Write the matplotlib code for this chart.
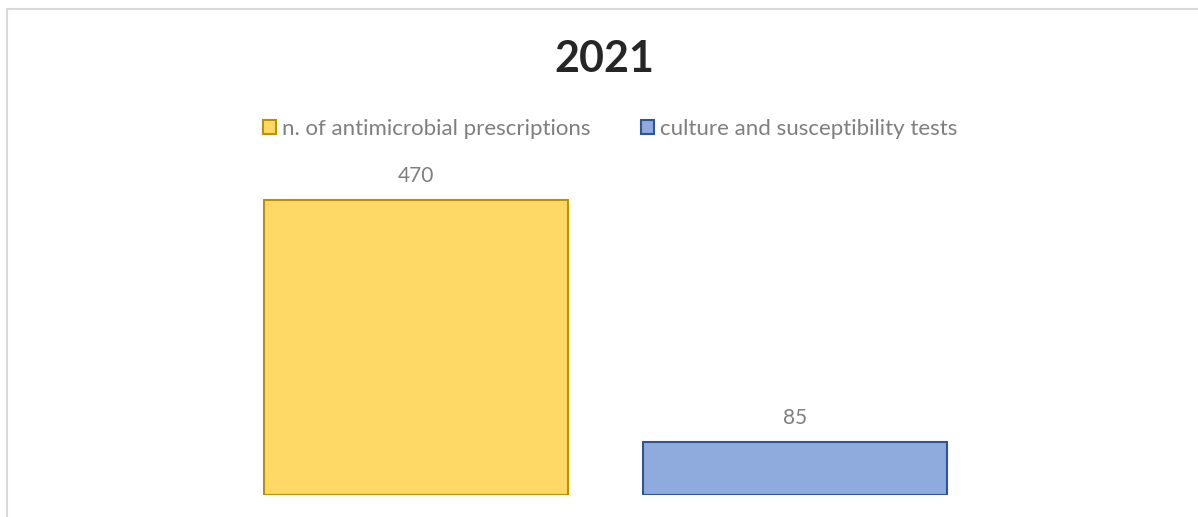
import matplotlib.pyplot as plt
from matplotlib.patches import Rectangle

title = '2021'
series = ['n. of antimicrobial prescriptions', 'culture and susceptibility tests']
values = [470, 85]
fills = ['#FFD966', '#8FAADC']
edges = ['#BF9000', '#2F5597']

W, H = 1198, 517
fig = plt.figure(figsize=(W / 100, H / 100), dpi=100)
plt.rcParams['font.family'] = ['Lato', 'DejaVu Sans']

# chart area border (only left and top edges fall inside the canvas)
fig.patches.append(Rectangle((6.5 / W, -0.5), 2, 1.5 - 8.5 / H, transform=fig.transFigure,
                             fill=False, ec='#D9D9D9', lw=1.5))

ax = fig.add_axes([226 / W, 22 / H, 759 / W, 314 / H])
ax.set_xlim(-0.5, 1.5)
ax.set_ylim(0, 500)
ax.axis('off')

bars = ax.bar(range(len(values)), values, width=0.8, color=fills, edgecolor=edges,
              linewidth=1.5, label=series)
for b, v in zip(bars, values):
    ax.annotate(f'{v}', (b.get_x() + b.get_width() / 2, v), xytext=(0, 10),
                textcoords='offset points', ha='center', va='bottom',
                fontsize=15, color='#7F7F7F')

fig.text(604.5 / W, 1 - 59 / H, title, ha='center', va='center',
         fontsize=31, fontweight='bold', color='#262626')

leg = fig.legend(bars, series, loc='center', bbox_to_anchor=(610 / W, 1 - 129 / H),
                 ncol=2, frameon=False, fontsize=16, handlelength=0.6, handleheight=0.6,
                 handletextpad=0.25, columnspacing=2.3, labelcolor='#7F7F7F')

fig.savefig('out.png', dpi=100, facecolor='white')
